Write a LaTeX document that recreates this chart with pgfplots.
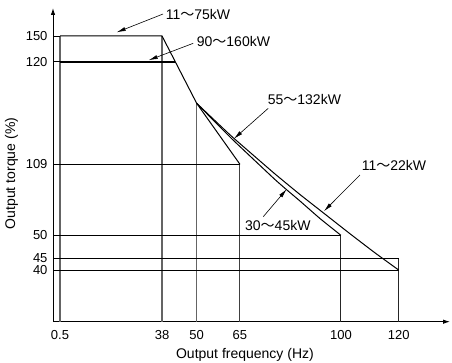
\documentclass[border=0pt]{standalone}
\usepackage{pgfplots}
\pgfplotsset{compat=1.18}
\usepackage{pgfplotstable}
\usepackage{fontspec}
\setmainfont{Liberation Sans}
\newfontfamily\cjk{Noto Sans CJK SC}
\newcommand{\tl}{{\cjk ～}}
\usetikzlibrary{arrows.meta}
\definecolor{vgray}{RGB}{100,100,100}

% plotting positions: x in Hz (0.5 Hz drawn at 2.64), y on the chart's own (non-linear) torque scale
% torque scale: 40->51.7, 45->63.4, 50->86.4, 109->157.4, 120->260, 150->285.7
\pgfplotstableread{
x y
2.64 285.7
38 285.7
50 218.4
}\seriesAflat
\pgfplotstableread{
x y
50 218.4
61.54 186.9
68.47 169.4
77.13 147.8
85.80 127.2
94.46 107.6
103.12 88.0
111.78 68.9
120 51.7
}\seriesAcurve
\pgfplotstableread{
x y
2.64 260
42.58 260
}\seriesB
\pgfplotstableread{
x y
50 218.4
65 157.4
}\seriesC
\pgfplotstableread{
x y
50 218.4
61.54 184.7
68.47 165.7
77.13 142.2
81.29 131.7
85.80 120.7
92.73 103.2
100 86.4
}\seriesD

\begin{document}
\begin{tikzpicture}
\useasboundingbox (-53pt,-40.3pt) rectangle (399pt,321.7pt);
\begin{axis}[
  scale only axis, width=397pt, height=313.7pt,
  xmin=0.21, xmax=137.8, ymin=0, ymax=313.7,
  axis lines=left,
  axis line style={line width=0.9pt, -{Latex[length=7pt,width=4.5pt]}},
  xtick={2.64,38,50,65,100,120}, xticklabels={0.5,38,50,65,100,120},
  ytick={51.7,63.4,86.4,157.4,260,285.7}, yticklabels={40,45,50,109,120,150},
  major tick length=0pt,
  tick label style={font=\fontsize{13}{15}\selectfont},
  yticklabel style={xshift=-2pt},
  xticklabel style={yshift=-5pt},
  clip=false,
]
% guide lines
\addplot[vgray, line width=1.1pt] coordinates {(2.64,0) (2.64,285.7)};
\addplot[vgray, line width=1.1pt] coordinates {(38,0) (38,285.7)};
\addplot[vgray, line width=1.1pt] coordinates {(50,0) (50,218.4)};
\addplot[black!75, line width=0.9pt] coordinates {(65,0) (65,157.4)};
\addplot[black!85, line width=0.9pt] coordinates {(100,0) (100,86.4)};
\addplot[black!85, line width=0.9pt] coordinates {(120,0) (120,63.4)};
\addplot[black, line width=0.9pt] coordinates {(0.21,157.4) (65,157.4)};
\addplot[black, line width=0.9pt] coordinates {(0.21,86.4) (100,86.4)};
\addplot[black, line width=0.9pt] coordinates {(0.21,63.4) (120,63.4)};
\addplot[black, line width=0.9pt] coordinates {(0.21,51.7) (120,51.7)};
\addplot[black, line width=0.9pt] coordinates {(0.21,285.7) (2.64,285.7)};
\addplot[black, line width=0.9pt] coordinates {(0.21,260) (2.64,260)};
% curves
\addplot[black, line width=1.0pt] table[x=x,y=y] {\seriesAflat};
\addplot[black, line width=1.0pt, smooth, tension=0.3] table[x=x,y=y] {\seriesAcurve};
\addplot[black, line width=2.0pt] table[x=x,y=y] {\seriesB};
\addplot[black, line width=1.0pt] table[x=x,y=y] {\seriesC};
\addplot[black, line width=1.0pt, smooth, tension=0.3] table[x=x,y=y] {\seriesD};
% annotations
\tikzset{ann/.style={line width=0.6pt, -{Latex[length=9pt,width=4pt]}}}
\def\af{\fontsize{14}{16}\selectfont}
\draw[ann] (axis cs:38.36,307.7) -- (axis cs:22.28,289.4);
\node[anchor=west, inner sep=0pt, font=\af] at (axis cs:39.26,307) {11\tl75kW};
\draw[ann] (axis cs:48.82,278.4) -- (axis cs:33.37,261.5);
\node[anchor=west, inner sep=0pt, font=\af] at (axis cs:50.0,280) {90\tl160kW};
\draw[ann] (axis cs:74.81,213.4) -- (axis cs:62.93,183);
\node[anchor=west, inner sep=0pt, font=\af] at (axis cs:74.6,222.2) {55\tl132kW};
\draw[ann] (axis cs:106.58,146.7) -- (axis cs:94.11,110.5);
\node[anchor=west, inner sep=0pt, font=\af] at (axis cs:107.17,156.7) {11\tl22kW};
\draw[ann] (axis cs:73.08,105) -- (axis cs:81.18,132.5);
\node[anchor=west, inner sep=0pt, font=\af] at (axis cs:66.74,96) {30\tl45kW};
% axis titles
\node[font=\fontsize{14}{16}\selectfont] at (axis cs:66.74,-33.3) {Output frequency (Hz)};
\node[font=\fontsize{14}{16}\selectfont, rotate=90] at (axis cs:-14.17,148.2) {Output torque (\%)};
\end{axis}
\end{tikzpicture}
\end{document}
